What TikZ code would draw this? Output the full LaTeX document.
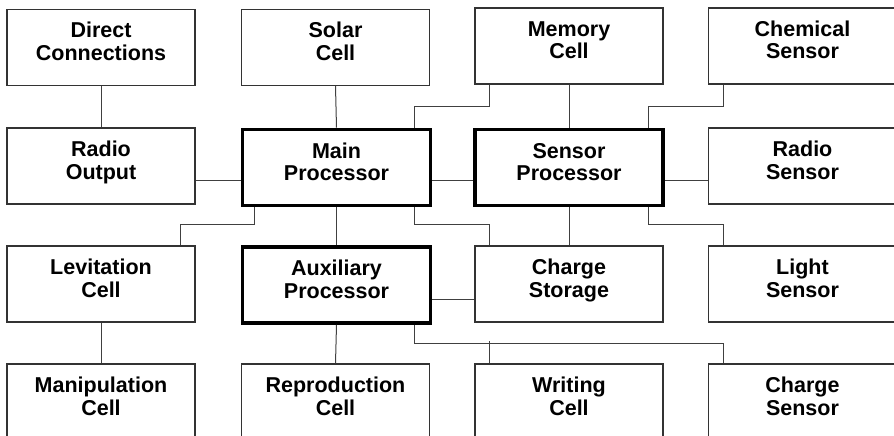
\documentclass[tikz,border=0pt]{standalone}
\usepackage{fontspec}
\setmainfont{Liberation Sans}
\begin{document}
\begin{tikzpicture}[x=1pt,y=-1pt,
  box/.style={draw=black!80, line width=1.1pt, rectangle, minimum width=188pt, minimum height=76pt,
    inner sep=0pt, align=center, text height=38pt, text depth=12pt,
    font=\bfseries\fontsize{21.5}{22.5}\selectfont},
  proc/.style={box, draw=black, line width=3.6pt, minimum width=188pt, minimum height=76pt},
  link/.style={draw=black!75, line width=1pt}]
\useasboundingbox (0,0) rectangle (894,436);
\clip (0,0) rectangle (894,436);
% row 1
\node[box] (dc) at (101,47.5) {Direct\\Connections};
\node[box] (sc) at (335.5,47.5) {Solar\\Cell};
\node[box] (mc) at (569,46) {Memory\\Cell};
\node[box] (cs) at (802.5,46) {Chemical\\Sensor};
% row 2
\node[box] (ro) at (101,166) {Radio\\Output};
\node[proc] (mp) at (336.5,167.5) {Main\\Processor};
\node[proc] (sp) at (569,167.5) {Sensor\\Processor};
\node[box] (rs) at (802.5,166) {Radio\\Sensor};
% row 3
\node[box] (lc) at (101,284) {Levitation\\Cell};
\node[proc] (ap) at (336.5,285) {Auxiliary\\Processor};
\node[box] (cst) at (569,284) {Charge\\Storage};
\node[box] (ls) at (802.5,284) {Light\\Sensor};
% row 4
\node[box] (mpc) at (101,402) {Manipulation\\Cell};
\node[box] (rc) at (335.5,402) {Reproduction\\Cell};
\node[box] (wc) at (569,402) {Writing\\Cell};
\node[box] (chs) at (802.5,402) {Charge\\Sensor};
% vertical straight links
\draw[link] (dc) -- (ro);
\draw[link] (sc.south) -- (mp.north);
\draw[link] (mc) -- (sp);
\draw[link] (mp) -- (ap);
\draw[link] (sp) -- (cst);
\draw[link] (lc) -- (mpc);
\draw[link] (ap.south) -- (rc.north);
% horizontal links
\draw[link] ([yshift=-14pt]ro.east) -- ([yshift=-14pt]ro.east -| mp.west);
\draw[link] ([yshift=-13pt]mp.east) -- ([yshift=-13pt]mp.east -| sp.west);
\draw[link] ([yshift=-13pt]sp.east) -- ([yshift=-13pt]sp.east -| rs.west);
\draw[link] ([yshift=-14pt]ap.east) -- ([yshift=-14pt]ap.east -| cst.west);
% stepped links
\draw[link] ([xshift=15pt]mc.south west) -- ++(0,22) -| ([xshift=-18pt]mp.north east);
\draw[link] ([xshift=16pt]cs.south west) -- ++(0,22) -| ([xshift=-16pt]sp.north east);
\draw[link] ([xshift=14pt]mp.south west) -- ++(0,17) -| ([xshift=-15pt]lc.north east);
\draw[link] ([xshift=-18pt]mp.south east) -- ++(0,17) -| ([xshift=15pt]cst.north west);
\draw[link] ([xshift=-16pt]sp.south east) -- ++(0,17) -| ([xshift=16pt]ls.north west);
\draw[link] ([xshift=-18pt]ap.south east) -- ++(0,19) -| ([xshift=16pt]chs.north west);
\draw[link] ([xshift=15pt]wc.north west) -- ++(0,-22);
\end{tikzpicture}
\end{document}
